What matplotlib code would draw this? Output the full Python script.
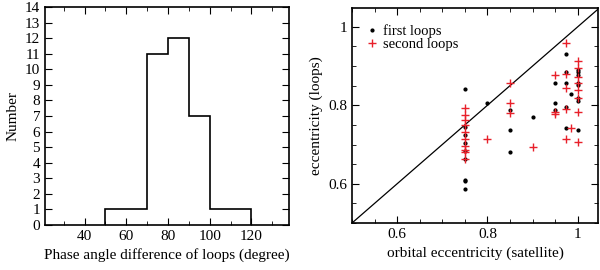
import matplotlib.pyplot as plt
from matplotlib.ticker import MultipleLocator

plt.rcParams['font.family'] = ['Liberation Serif', 'DejaVu Serif']
plt.rcParams['font.size'] = 11

# histogram data
bin_edges = [50, 70, 80, 90, 100, 120]
counts = [1, 11, 12, 7, 1]

# first loops (black dots)
first_x = [0.75, 0.75, 0.75, 0.75, 0.75, 0.75, 0.75, 0.75, 0.75,
           0.8, 0.85, 0.85, 0.85, 0.9,
           0.95, 0.95, 0.95,
           0.975, 0.975, 0.975, 0.975, 0.975, 0.985,
           1.0, 1.0, 1.0, 1.0, 1.0, 1.0, 1.0, 1.0]
first_y = [0.842, 0.744, 0.724, 0.704, 0.684, 0.662, 0.610, 0.606, 0.586,
           0.807, 0.787, 0.737, 0.680, 0.771,
           0.858, 0.807, 0.789,
           0.932, 0.886, 0.857, 0.795, 0.743, 0.830,
           0.890, 0.884, 0.877, 0.857, 0.851, 0.819, 0.810, 0.736]

# second loops (red crosses)
second_x = [0.75, 0.75, 0.75, 0.75, 0.75, 0.75, 0.75, 0.75, 0.75, 0.75,
            0.8, 0.85, 0.85, 0.85, 0.9,
            0.95, 0.95, 0.95,
            0.975, 0.975, 0.975, 0.975, 0.975, 0.985,
            1.0, 1.0, 1.0, 1.0, 1.0, 1.0, 1.0, 1.0]
second_y = [0.793, 0.775, 0.763, 0.749, 0.732, 0.715, 0.696, 0.687, 0.682, 0.662,
            0.713, 0.857, 0.807, 0.780, 0.693,
            0.877, 0.782, 0.779,
            0.960, 0.880, 0.845, 0.791, 0.715, 0.743,
            0.912, 0.894, 0.873, 0.857, 0.839, 0.818, 0.783, 0.707]

fig = plt.figure(figsize=(6, 2.7), dpi=100)

# left panel: histogram
ax1 = fig.add_axes([45/600, 1-225/270, 244/600, 218/270])
ax1.stairs(counts, bin_edges, color='black', linewidth=1.2, baseline=0)
ax1.set_xlim(21, 138)
ax1.set_ylim(0, 14)
ax1.xaxis.set_major_locator(MultipleLocator(20))
ax1.xaxis.set_minor_locator(MultipleLocator(10))
ax1.yaxis.set_major_locator(MultipleLocator(1))
ax1.set_xlabel('Phase angle difference of loops (degree)')
ax1.set_ylabel('Number')

# right panel: eccentricity scatter
ax2 = fig.add_axes([352/600, 1-223/270, 246/600, 215/270])
ax2.plot([0.5, 1.05], [0.5, 1.05], color='black', linewidth=0.9)
ax2.plot(first_x, first_y, 'o', color='black', markersize=2.0, label='first loops')
ax2.plot(second_x, second_y, '+', color='#e8202a', markersize=5.5, markeredgewidth=1.0,
         label='second loops')
ax2.set_xlim(0.5, 1.045)
ax2.set_ylim(0.5, 1.048)
ax2.xaxis.set_minor_locator(MultipleLocator(0.05))
ax2.yaxis.set_minor_locator(MultipleLocator(0.05))
ax2.set_xticks([0.6, 0.8, 1.0])
ax2.set_xticklabels(['0.6', '0.8', '1'])
ax2.set_yticks([0.6, 0.8, 1.0])
ax2.set_yticklabels(['0.6', '0.8', '1'])
ax2.set_xlabel('orbital eccentricity (satellite)')
ax2.set_ylabel('eccentricity (loops)')
ax2.legend(loc='upper left', bbox_to_anchor=(0.053, 0.926), frameon=False,
           fontsize=10.5, handletextpad=0.2, borderaxespad=0, borderpad=0,
           labelspacing=0.0, handlelength=1.0)

for ax in (ax1, ax2):
    ax.tick_params(which='both', direction='in', top=True, right=True)
    ax.tick_params(which='major', length=5)
    ax.tick_params(which='minor', length=3)
    for s in ax.spines.values():
        s.set_linewidth(1.2)

fig.savefig('out.png', dpi=100)
